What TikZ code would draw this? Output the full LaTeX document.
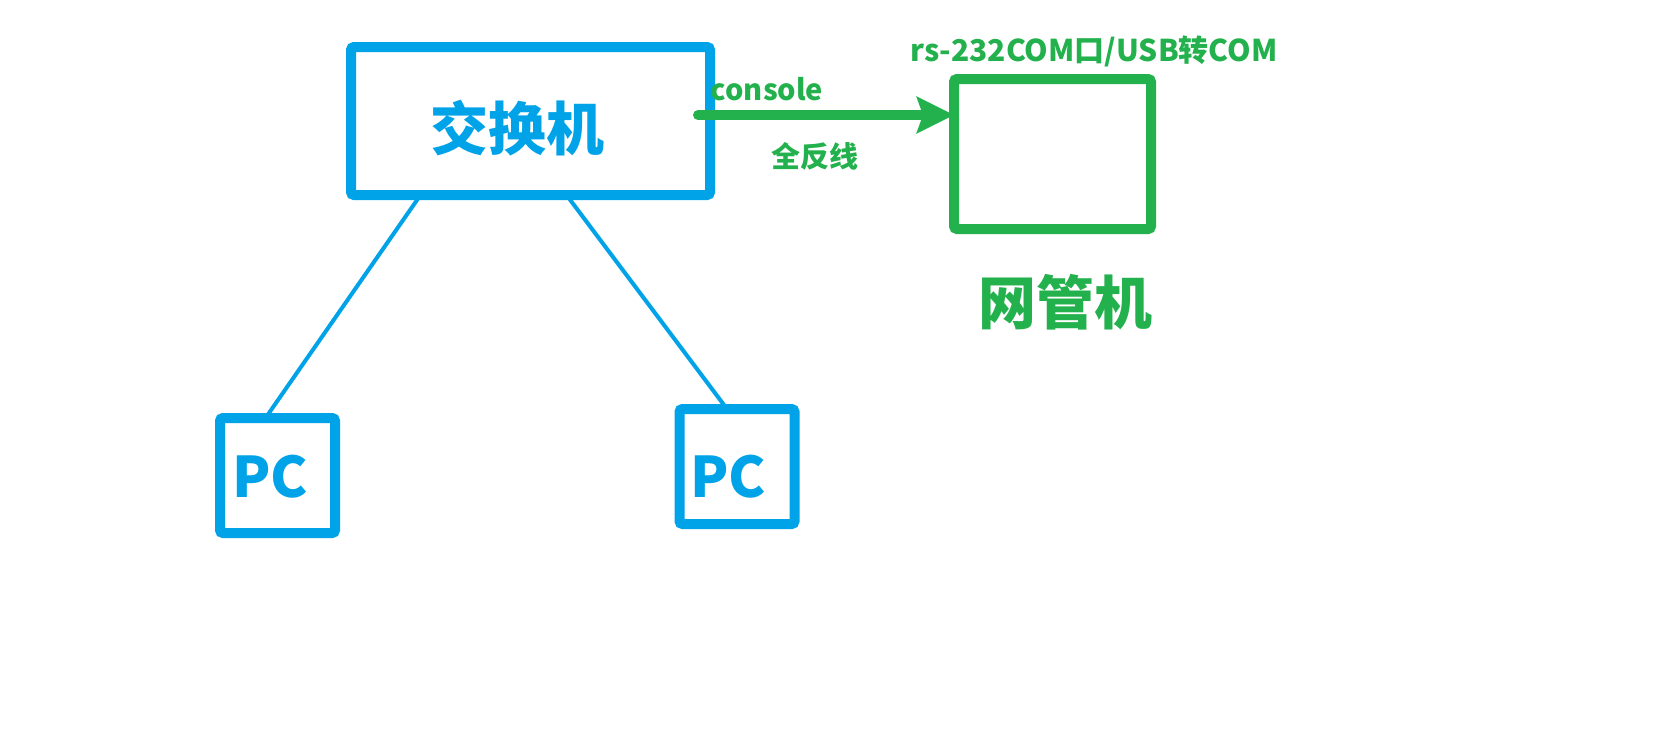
\documentclass[tikz,border=0pt]{standalone}
\usepackage{fontspec}
\setmainfont{Noto Sans CJK SC}
\usetikzlibrary{arrows.meta}
\definecolor{netblue}{RGB}{0,162,232}
\definecolor{netgreen}{RGB}{34,177,76}
\begin{document}
\begin{tikzpicture}[x=0.5pt,y=-0.5pt,font=\bfseries,
    box/.style={draw,line width=5pt,rounded corners=1.5pt,inner sep=0pt,outer sep=0pt},
    swbox/.style={box,draw=netblue,minimum width=179.5pt,minimum height=74pt},
    pcbox/.style={box,draw=netblue,minimum width=57.5pt,minimum height=57.5pt},
    bigtext/.style={text=netblue,font=\bfseries\fontsize{29}{29}\selectfont},
    pctext/.style={text=netblue,font=\bfseries\fontsize{28}{28}\selectfont},
    glabel/.style={text=netgreen,font=\bfseries\fontsize{14.5}{14.5}\selectfont}]
    \useasboundingbox (0,0) rectangle (1668,752);
    % switch and the two PCs
    \node[swbox,label={[bigtext,xshift=-6.75pt,yshift=-3.5pt]center:交换机}] (sw) at (530.5,121) {};
    \node[pcbox,label={[pctext,xshift=-3.75pt,yshift=-0.75pt]center:PC}] (pc1) at (277.5,475.5) {};
    \node[pcbox,label={[pctext,xshift=-4.5pt,yshift=-5pt]center:PC}] (pc2) at (737,466.5) {};
    % management host
    \node[box,draw=netgreen,minimum width=98.5pt,minimum height=75pt] (host) at (1052.5,154) {};
    \node[bigtext,text=netgreen] (hostname) at (1065,302) {网管机};
    % links
    \draw[netblue,line width=2pt,line cap=round] ([xshift=-55pt]sw.south) -- ([xshift=-6pt]pc1.north);
    \draw[netblue,line width=2pt,line cap=round] ([xshift=18pt]sw.south) -- ([xshift=-5pt]pc2.north);
    \draw[netgreen,line width=5pt,line cap=round,-{Stealth[length=18.5pt,width=18pt,inset=3pt]}]
        ([xshift=-6pt,yshift=3pt]sw.east) -- ([yshift=19.5pt]host.west);
    % labels
    \node[glabel] (cons) at (767,89) {console};
    \node[glabel] (cable) at (815,156) {全反线};
    \node[glabel,font=\bfseries\fontsize{15}{15}\selectfont] (port) at (1094,51) {rs-232COM口/USB转COM};
\end{tikzpicture}
\end{document}
